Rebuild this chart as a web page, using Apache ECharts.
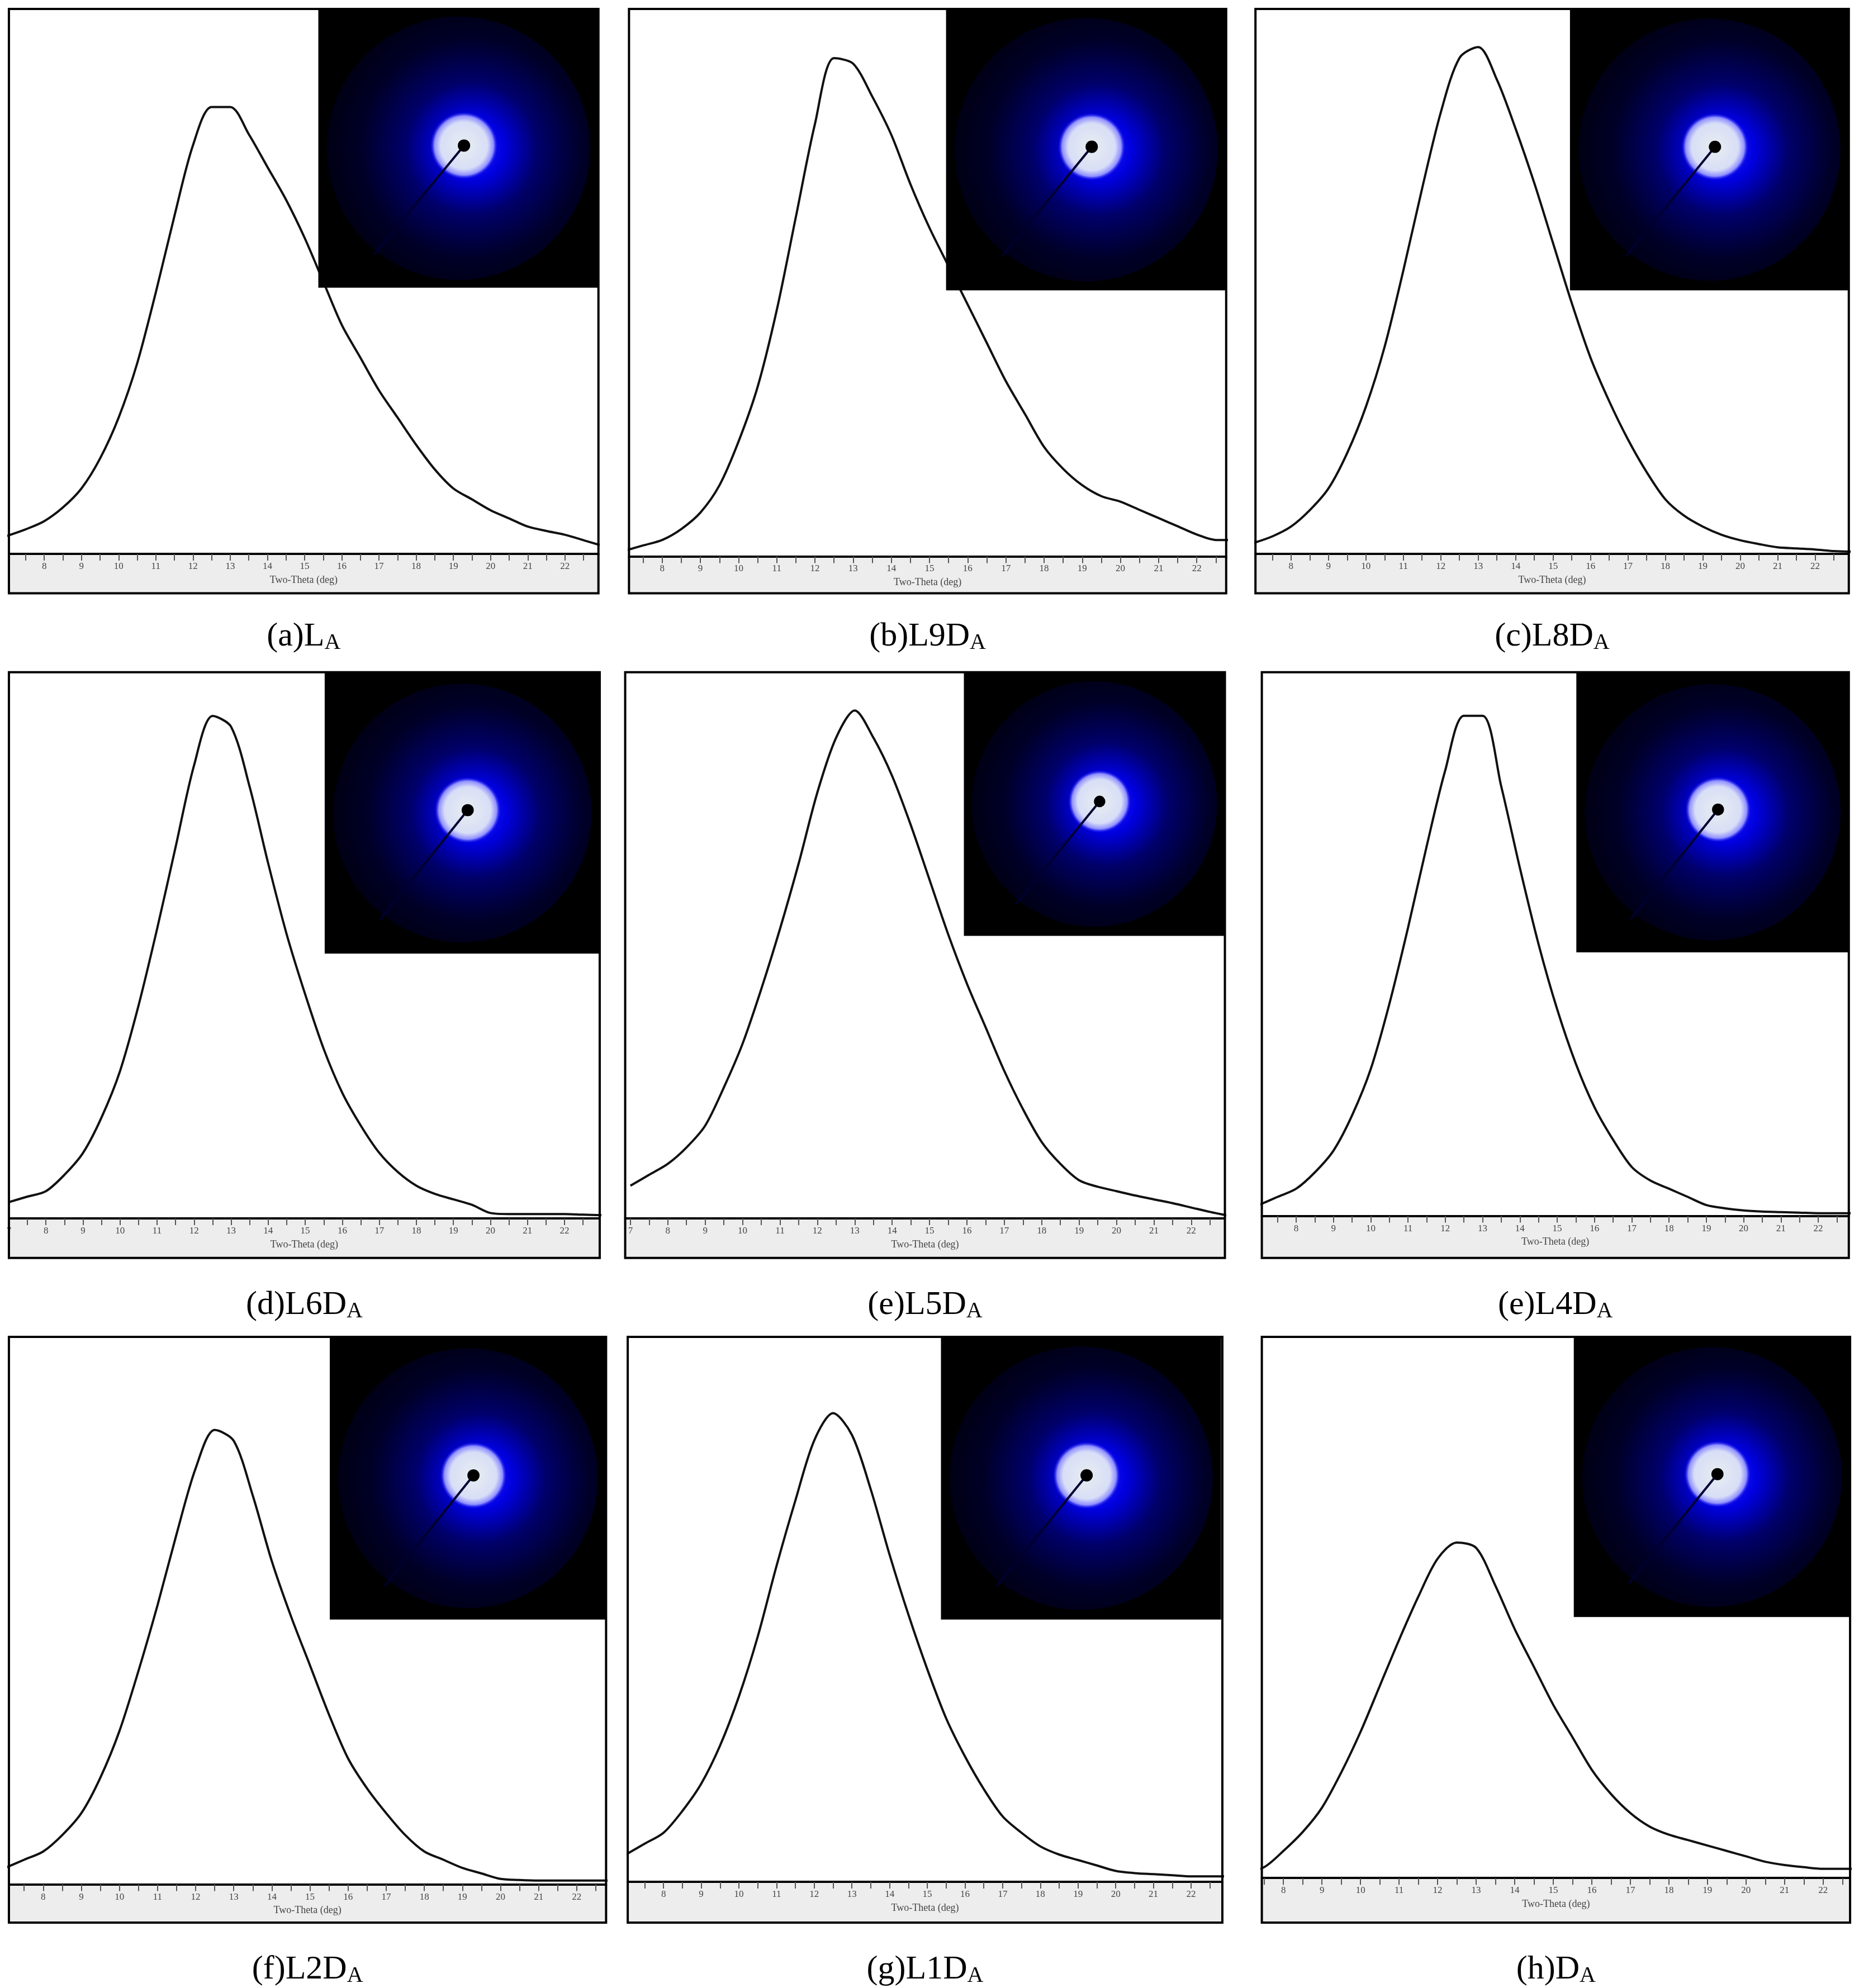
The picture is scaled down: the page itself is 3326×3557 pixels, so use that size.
<!DOCTYPE html>
<html><head><meta charset="utf-8">
<script src="https://cdn.jsdelivr.net/npm/echarts@6/dist/echarts.min.js"></script>
<style>html,body{margin:0;padding:0;background:#fff}#c{width:3326px;height:3557px}</style>
</head><body><div id="c"></div>
<script>
// Two-theta sample positions (deg) and relative intensity (%) per sample
const twoTheta = [7,7.5,8,8.5,9,9.5,10,10.5,11,11.5,12,12.5,13,13.5,14,14.5,15,15.5,16,16.5,17,17.5,18,18.5,19,19.5,20,20.5,21,21.5,22,22.5,23];
const yLA   = [3.3,4.5,6,8.5,12,17.5,25,35,48,62,75,82,82,77,71,65,58,50,42,36,30,25,20,15.5,12,10,8,6.5,5,4.2,3.5,2.5,1.5];
const yL9DA = [1,2,3,5,8,13,21,31,45,62,79,91,90,84,77,68,60,53,46,39,32,26,20,16,13,11,10,8.5,7,5.5,4,3,3];
const yL8DA = [2,3.2,5,8,12,18.5,27,38,52,67,81,91,93,87,78,68,57,46,36,28,21,15,10,7,5,3.5,2.5,1.8,1.2,1,0.8,0.5,0.4];
const yL6DA = [3,4,5,8,12,18.5,27,39,53,68,83,92,90,79,65,52,41,31,23,17,12,8.5,6,4.5,3.5,2.5,1,0.8,0.8,0.8,0.8,0.7,0.6];
const yL5DA = [6,8,10,13,17,24,32,42,53,65,78,88,93,88,81,72,62,52,43,35,27,20,14,10,7,5.8,5,4.2,3.5,2.8,2,1.2,0.5];
const yL4DA = [2,3.5,5,8,12,18.5,27,39,53,68,82,92,92,79,64,50,38,28,20,14,9,6.5,5,3.5,2,1.4,1,0.8,0.7,0.6,0.5,0.5,0.5];
const yL2DA = [3,4.5,6,9,13,19.5,28,39,51,64,76,83,81,71,59,49,40,31,23,17.5,13,9,6,4.5,3,2,1,0.8,0.7,0.7,0.7,0.7,0.7];
const yL1DA = [5,7,9,13,18,25,34,45,58,70,81,86,82,72,60,49,39,30,23,17,12,9,6.5,5,4,3,2,1.6,1.4,1.2,1,1,1];
const yDA   = [1,2,5,8.5,13,19.5,27,35.5,44,52,59,62,61,54,46,39,32,26,20,15.5,12,9.5,8,7,6,5,4,3,2.4,2,1.7,1.7,1.7];
const captions = ['(a)L','(b)L9D','(c)L8D','(d)L6D','(e)L5D','(e)L4D','(f)L2D','(g)L1D','(h)D'];
const tickLabels = [7,8,9,10,11,12,13,14,15,16,17,18,19,20,21,22];
const minorTicks = [];
for (let v = 7; v <= 23; v += 0.5) minorTicks.push(v);

const S = 3326/1460;
const P = [
 {b:[7,7,470,466], ax:435, r:[7.05,22.9], ins:[250,7,470,226], cy:500, d:yLA},
 {b:[494,7,963,466], ax:437, r:[7.13,22.77], ins:[743,7,963,228], cy:500, d:yL9DA},
 {b:[986,7,1452,466], ax:435, r:[7.05,22.9], ins:[1233,7,1452,228], cy:500, d:yL8DA},
 {b:[7,528,471,988], ax:957, r:[7.0,22.95], ins:[255,528,471,749], cy:1025, d:yL6DA},
 {b:[491,528,962,988], ax:957, r:[6.86,22.9], ins:[757,528,962,735], cy:1025, d:yL5DA},
 {b:[991,528,1452,988], ax:955, r:[7.08,22.82], ins:[1238,528,1452,748], cy:1025, d:yL4DA},
 {b:[7,1050,476,1510], ax:1480, r:[7.1,22.77], ins:[259,1050,476,1272], cy:1547, d:yL2DA},
 {b:[493,1050,960,1510], ax:1478, r:[7.05,22.83], ins:[739,1050,959,1272], cy:1547, d:yL1DA},
 {b:[991,1050,1453,1510], ax:1475, r:[7.44,22.7], ins:[1236,1050,1453,1270], cy:1547, d:yDA}
];
const grids=[],xAxes=[],yAxes=[],series=[],graphics=[];
P.forEach((p,i)=>{
  const L=p.b[0]*S,T=p.b[1]*S,R=p.b[2]*S,B=p.b[3]*S,A=p.ax*S;
  graphics.push({type:'rect',shape:{x:L,y:A,width:R-L,height:B-A},style:{fill:'#ededed'},z:0});
  graphics.push({type:'rect',shape:{x:L,y:T,width:R-L,height:B-T},style:{fill:null,stroke:'#000',lineWidth:4},z:50});
  const iL=p.ins[0]*S,iT=p.ins[1]*S,iW=(p.ins[2]-p.ins[0])*S,iH=(p.ins[3]-p.ins[1])*S;
  const cx=iL+iW*0.52, cy=iT+iH*0.49;
  graphics.push({type:'rect',shape:{x:iL,y:iT,width:iW,height:iH},style:{fill:'#000'},z:40});
  graphics.push({type:'circle',shape:{cx:iL+iW*0.5,cy:iT+iH*0.5,r:iW*0.47},style:{fill:{type:'radial',x:0.55,y:0.5,r:0.6,colorStops:[{offset:0,color:'#2020ff'},{offset:0.2,color:'#0000e0'},{offset:0.42,color:'#00006a'},{offset:0.7,color:'#000028'},{offset:1,color:'#00000c'}]}},z:41});
  graphics.push({type:'ellipse',shape:{cx:cx,cy:cy,rx:iW*0.12,ry:iH*0.145},style:{fill:{type:'radial',x:0.5,y:0.5,r:0.5,colorStops:[{offset:0,color:'#e8eef0'},{offset:0.7,color:'#d8def6'},{offset:0.88,color:'#9090ff'},{offset:1,color:'rgba(30,30,255,0)'}]}},z:42});
  graphics.push({type:'line',shape:{x1:cx,y1:cy,x2:iL+iW*0.2,y2:iT+iH*0.88},style:{stroke:'#000030',lineWidth:4},z:43});
  graphics.push({type:'circle',shape:{cx:cx,cy:cy,r:iW*0.022},style:{fill:'#000'},z:44});
  graphics.push({type:'text',x:(L+R)/2,y:p.cy*S,style:{text:'{m|'+captions[i]+'}{s|A}',rich:{m:{fontFamily:'Liberation Serif',fontSize:60,fill:'#000'},s:{fontFamily:'Liberation Serif',fontSize:40,fill:'#000',padding:[22,0,0,0]}},align:'center',verticalAlign:'middle'},z:50});
  grids.push({left:L,top:T,width:R-L,height:A-T});
  xAxes.push({gridIndex:i,type:'value',min:p.r[0],max:p.r[1],
    axisLine:{show:true,lineStyle:{color:'#000',width:4}},
    axisTick:{show:true,customValues:minorTicks.filter(v=>v>p.r[0]&&v<p.r[1]),length:12,lineStyle:{color:'#555',width:2}},
    axisLabel:{customValues:tickLabels.filter(v=>v>=p.r[0]&&v<=p.r[1]),fontFamily:'Liberation Sans Narrow',fontSize:17,color:'#444',margin:14},
    splitLine:{show:false},name:'Two-Theta (deg)',nameLocation:'middle',nameGap:38,nameTextStyle:{fontFamily:'Liberation Sans Narrow',fontSize:18,color:'#444'}});
  yAxes.push({gridIndex:i,type:'value',min:0,max:100,show:false});
  series.push({type:'line',xAxisIndex:i,yAxisIndex:i,data:twoTheta.map((x,k)=>[x,p.d[k]]),smooth:0.3,showSymbol:false,clip:true,lineStyle:{color:'#111',width:4},z:5});
});
const chart=echarts.init(document.getElementById('c'));
chart.setOption({animation:false,backgroundColor:'#fff',grid:grids,xAxis:xAxes,yAxis:yAxes,series:series,graphic:graphics});
</script></body></html>
